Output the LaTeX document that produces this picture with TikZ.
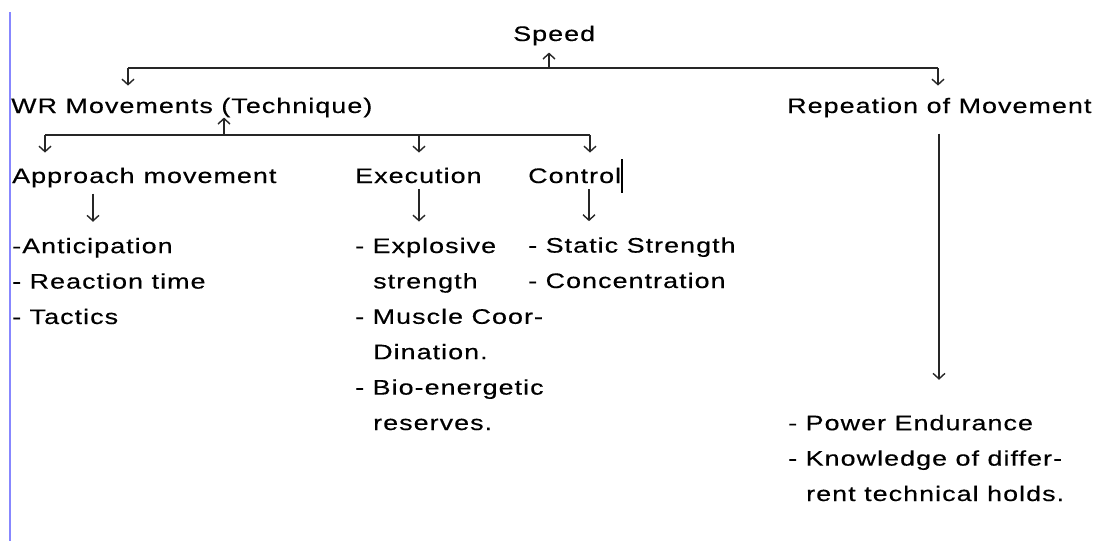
\documentclass[tikz,border=0pt]{standalone}
\usepackage{fontspec}
\setmainfont[FakeStretch=1.28,LetterSpace=5,FakeBold=0.4]{Liberation Sans}
\usetikzlibrary{arrows.meta}
\begin{document}
\begin{tikzpicture}[x=1pt,y=-1pt,
  lbl/.style={inner sep=0pt,anchor=base west,font=\fontsize{21}{35.4}\selectfont,text=black},
  lst/.style={lbl,align=left},
  ln/.style={line width=1.4pt,draw=black!85},
  arr/.style={ln,-{Straight Barb[length=5.5pt,width=12pt]}}]
\useasboundingbox (0,0) rectangle (1097,544);
\draw[line width=2pt,draw={rgb,255:red,135;green,135;blue,255}] (10,12) -- (10,541);
% nodes (lists are anchored at the baseline of their last line)
\node[lbl] (speed) at (513,41) {Speed};
\node[lbl] (wr) at (11,113) {WR Movements (Technique)};
\node[lbl] (rep) at (787,113) {Repeation of Movement};
\node[lbl] (app) at (12,183) {Approach\hspace{9pt}movement};
\node[lbl] (exe) at (355,183) {Execution};
\node[lbl] (ctl) at (528,183) {Control};
\node[lst] (appl) at (12,324) {-Anticipation\\- Reaction time\\- Tactics};
\node[lst] (exel) at (355,430) {- Explosive\\\hspace*{18pt}strength\\- Muscle Coor-\\\hspace*{18pt}Dination.\\- Bio-energetic\\\hspace*{18pt}reserves.};
\node[lst] (ctll) at (528,288) {- Static Strength\\- Concentration};
\node[lst] (repl) at (788,501) {- Power Endurance\\- Knowledge of differ-\\\hspace*{18pt}rent technical holds.};
% cursor
\draw[line width=1.2pt] (622,159) -- (622,193);
% level 1
\coordinate (s1) at (549,68);
\coordinate (l1) at (128,68);
\coordinate (r1) at (938,68);
\draw[ln] (l1) -- (r1);
\draw[arr,shorten >=7pt] (s1) -- (s1 |- speed.south);
\draw[arr,shorten >=12pt] (l1) -- (l1 |- wr.north);
\draw[arr,shorten >=12pt] (r1) -- (r1 |- rep.north);
% level 2
\coordinate (w2) at (224,135);
\coordinate (a2) at (45,135);
\coordinate (e2) at (419,135);
\coordinate (c2) at (590,135);
\draw[ln] (a2) -- (c2);
\draw[arr] (w2) -- (w2 |- wr.south);
\draw[arr,shorten >=15pt] (a2) -- (a2 |- app.north);
\draw[arr,shorten >=15pt] (e2) -- (e2 |- exe.north);
\draw[arr,shorten >=15pt] (c2) -- (c2 |- ctl.north);
% level 3
\draw[arr,shorten <=6pt,shorten >=16pt] (93,0 |- app.south) -- (93,0 |- appl.north);
\draw[arr,shorten <=6pt,shorten >=16pt] (419,0 |- exe.south) -- (419,0 |- exel.north);
\draw[arr,shorten <=6pt,shorten >=16pt] (589,0 |- ctl.south) -- (589,0 |- ctll.north);
\draw[arr,shorten <=16pt,shorten >=35pt] (939,0 |- rep.south) -- (939,0 |- repl.north);
\end{tikzpicture}
\end{document}
